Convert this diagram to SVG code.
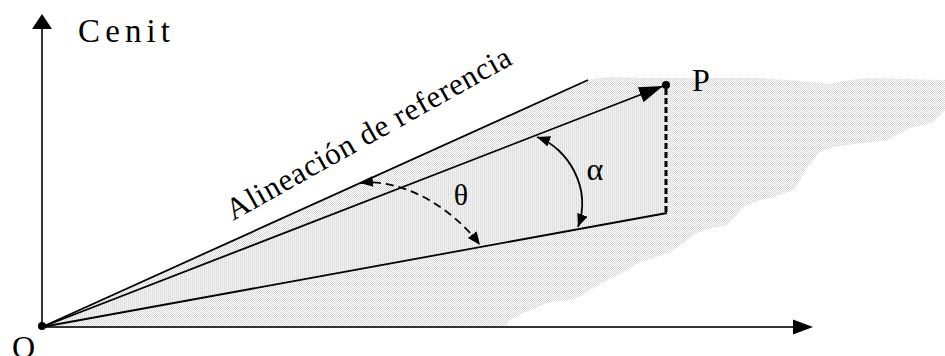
<svg xmlns="http://www.w3.org/2000/svg" width="945" height="356" viewBox="0 0 945 356">
<style>
.ln{stroke:#000;stroke-width:1.8;fill:none}
.ax{stroke:#333;stroke-width:2;fill:none}
.t{font-family:'Liberation Serif','Times New Roman','DejaVu Serif',serif;fill:#000}
</style>
<defs>
<pattern id="dots" width="2" height="2" patternUnits="userSpaceOnUse">
<rect width="2" height="2" fill="#fff"/>
<rect width="1" height="1" fill="#d6d6d6"/>
<rect x="1" y="1" width="1" height="1" fill="#d6d6d6"/>
</pattern>
<pattern id="stripes" width="2" height="2" patternUnits="userSpaceOnUse">
<rect width="2" height="2" fill="#f2f2f2"/>
<rect width="1" height="2" fill="#dedede"/>
</pattern>
<marker id="ah" viewBox="0 0 12 10" refX="12" refY="5" markerWidth="13" markerHeight="11" markerUnits="userSpaceOnUse" orient="auto-start-reverse">
<path d="M0 0 L12 5 L0 10 Z" fill="#000"/>
</marker>
<marker id="ahBig" viewBox="0 0 24 16" refX="24" refY="8" markerWidth="24" markerHeight="16" markerUnits="userSpaceOnUse" orient="auto">
<path d="M0 0 L24 8 L0 16 Z" fill="#000"/>
</marker>
</defs>

<g id="terrain">
<path d="M42 327 L588 80 L600 78 L613 77 L640 78 L700 78 L760 78 L790 80 L830 84 L850 80 L870 78 L945 80 L945 110 L933 122 L910 128 L887 140 L863 143 L833 147 L820 152 L807 167 L800 180 L793 190 L777 196 L757 201 L743 207 L735 217 L727 225 L707 229 L693 235 L683 243 L670 252 L653 258 L640 262 L627 270 L613 277 L600 284 L587 292 L573 300 L550 302 L535 308 L523 313 L510 320 L505 327 Z" fill="url(#dots)"/>
</g>
<g id="wedge">
<path d="M42 327 L666 85 L666 213 Z" fill="url(#stripes)"/>
</g>

<g id="axes">
<line class="ax" x1="42" y1="327" x2="42" y2="28"/>
<polygon points="42,14 32,29 52,29" fill="#000"/>
<line class="ax" x1="42" y1="327" x2="795" y2="327"/>
<polygon points="813,327 793,319.5 793,334.5" fill="#000"/>
</g>

<g id="connectors">
<line class="ln" x1="42" y1="327" x2="588" y2="80"/>
<line class="ln" x1="42" y1="327" x2="663" y2="86" marker-end="url(#ahBig)"/>
<line class="ln" x1="42" y1="327" x2="667" y2="213"/>
<line x1="666" y1="89" x2="666" y2="213" stroke="#000" stroke-width="3" stroke-dasharray="6 3"/>
<path class="ln" d="M360 183 C400 178 450 205 480 245" stroke-dasharray="8 5" marker-start="url(#ah)" marker-end="url(#ah)"/>
<path class="ln" d="M537 137 C568 148 592 188 578 227" marker-start="url(#ah)" marker-end="url(#ah)"/>
</g>

<g id="O">
<circle cx="42" cy="326" r="4" fill="#000"/>
<text class="t" x="12" y="358" font-size="32">O</text>
</g>
<g id="P">
<circle cx="666" cy="85" r="4" fill="#000"/>
<text class="t" x="692" y="91" font-size="32">P</text>
</g>
<g id="cenit">
<text class="t" x="78" y="42" font-size="33" textLength="92" lengthAdjust="spacing">Cenit</text>
</g>
<g id="alineacion">
<text class="t" x="0" y="0" font-size="31" textLength="322" lengthAdjust="spacing" transform="translate(233 221) rotate(-29.3)">Alineación de referencia</text>
</g>
<g id="theta">
<text class="t" x="461" y="205" font-size="30" text-anchor="middle">θ</text>
</g>
<g id="alpha">
<text class="t" x="595" y="180" font-size="32" text-anchor="middle">α</text>
</g>
</svg>
